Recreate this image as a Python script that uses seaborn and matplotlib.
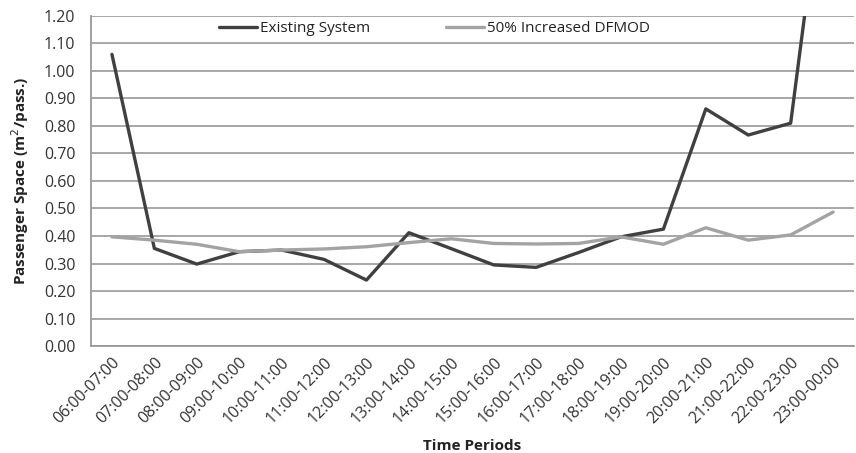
import pandas as pd
import matplotlib
matplotlib.use('Agg')
import matplotlib.pyplot as plt
import seaborn as sns

# Data
periods = ['06:00-07:00', '07:00-08:00', '08:00-09:00', '09:00-10:00', '10:00-11:00',
           '11:00-12:00', '12:00-13:00', '13:00-14:00', '14:00-15:00', '15:00-16:00',
           '16:00-17:00', '17:00-18:00', '18:00-19:00', '19:00-20:00', '20:00-21:00',
           '21:00-22:00', '22:00-23:00', '23:00-00:00']
existing = [1.06, 0.355, 0.298, 0.343, 0.349, 0.315, 0.24, 0.412, 0.354, 0.295,
            0.286, 0.34, 0.397, 0.425, 0.862, 0.767, 0.81, 2.0]
increased = [0.397, 0.385, 0.37, 0.343, 0.349, 0.353, 0.361, 0.376, 0.39, 0.373,
             0.371, 0.373, 0.397, 0.37, 0.43, 0.385, 0.404, 0.487]
series_names = ['Existing System', '50% Increased DFMOD']

df = pd.DataFrame({
    'period': periods * 2,
    'value': existing + increased,
    'series': [series_names[0]] * len(periods) + [series_names[1]] * len(periods),
})

sns.set_style('white')
plt.rcParams['font.family'] = ['Open Sans', 'DejaVu Sans']

fig, ax = plt.subplots(figsize=(8.56, 4.53), dpi=100)
fig.subplots_adjust(left=0.106, right=0.998, top=0.965, bottom=0.236)

sns.lineplot(data=df, x='period', y='value', hue='series', sort=False,
             palette={series_names[0]: '#404040', series_names[1]: '#a3a3a3'},
             linewidth=2.4, ax=ax)

ax.set_xlim(-0.5, len(periods) - 0.5)
ax.set_ylim(0, 1.2)
ax.set_yticks([i / 10 for i in range(13)])
ax.set_yticklabels([f'{i / 10:.2f}' for i in range(13)], fontsize=11.5, color='#333333')
ax.set_xticks(range(len(periods)))
ax.set_xticklabels(periods, rotation=45, ha='right', rotation_mode='anchor',
                   fontsize=11.5, color='#333333')
ax.tick_params(axis='x', length=0, pad=6)
ax.tick_params(axis='y', length=0, pad=11)

ax.yaxis.grid(True, color='#a0a0a0', linewidth=1.3)
ax.set_axisbelow(True)
for side in ['top', 'right']:
    ax.spines[side].set_visible(False)
for side in ['left', 'bottom']:
    ax.spines[side].set_color('#999999')
    ax.spines[side].set_linewidth(1.3)

ax.set_xlabel('Time Periods', fontsize=11, fontweight='bold', color='#222222',
              labelpad=9)
ax.set_ylabel('Passenger Space (m$^2$/pass.)', fontsize=11, fontweight='bold',
              color='#222222', labelpad=9)

ax.legend(loc='center', bbox_to_anchor=(0.45, 0.962), ncol=2, frameon=False,
          fontsize=11, handlelength=2.5, handletextpad=0.15, columnspacing=5.0,
          labelcolor='#222222')

plt.savefig('out.png', dpi=100)
